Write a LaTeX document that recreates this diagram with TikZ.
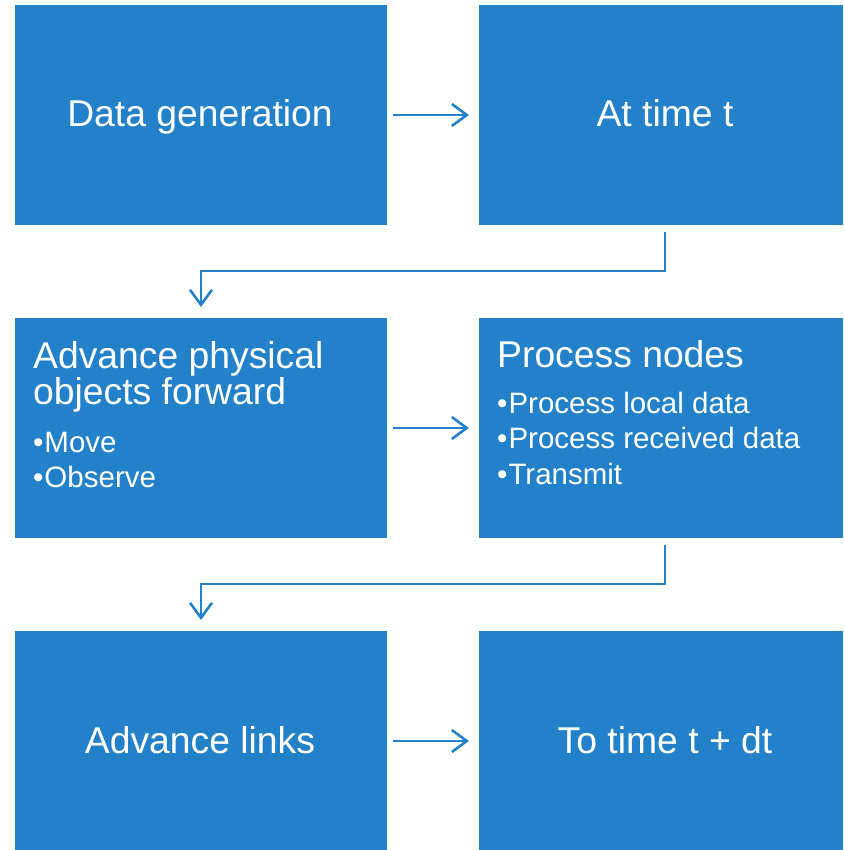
\documentclass[tikz,border=0pt]{standalone}
\usepackage{fontspec}
\setmainfont{Liberation Sans}
\usetikzlibrary{arrows.meta}
\definecolor{boxblue}{RGB}{34,129,200}
\tikzset{
  box/.style={fill=boxblue, draw=none, inner sep=0pt},
  title/.style={text=white, inner sep=0pt, anchor=base, font=\fontsize{37.3}{44}\selectfont},
  big/.style={text=white, inner sep=0pt, anchor=base west, font=\fontsize{37.3}{44}\selectfont},
  small/.style={text=white, inner sep=0pt, anchor=base west, font=\fontsize{29.5}{34}\selectfont},
  conn/.style={draw=boxblue, line width=2.6pt, -{Straight Barb[length=15pt,width=22pt,line width=2.6pt]}},
}
\begin{document}
\begin{tikzpicture}[x=1pt,y=-1pt]
\useasboundingbox (0,0) rectangle (843,850);
% boxes
\node[box, minimum width=372pt, minimum height=220pt] (b1) at (201,115) {};
\node[box, minimum width=364pt, minimum height=220pt] (b2) at (661,115) {};
\node[box, minimum width=372pt, minimum height=220pt] (b3) at (201,428) {};
\node[box, minimum width=364pt, minimum height=220pt] (b4) at (661,428) {};
\node[box, minimum width=372pt, minimum height=219pt] (b5) at (201,740.5) {};
\node[box, minimum width=364pt, minimum height=219pt] (b6) at (661,740.5) {};
% titles
\node[title] (t1) at (200,126.5) {Data generation};
\node[title] (t2) at (665,126.5) {At time t};
\node[title] (t5) at (200,753.5) {Advance links};
\node[title] (t6) at (665,753.5) {To time t + dt};
% texts in box 3
\node[big] (t3a) at (33,368) {Advance physical};
\node[big] (t3b) at (33,404) {objects forward};
\node[small] (t3c) at (33,452) {•\kern1pt Move};
\node[small] (t3d) at (33,487) {•\kern1pt Observe};
% texts in box 4
\node[big] (t4a) at (497,367) {Process nodes};
\node[small] (t4b) at (497,413) {•\kern1pt Process local data};
\node[small] (t4c) at (497,448) {•\kern1pt Process received data};
\node[small] (t4d) at (497,484) {•\kern1pt Transmit};
% connector coordinates
\coordinate (a1s) at (393,115); \coordinate (a1e) at (469,115);
\coordinate (a2s) at (393,428); \coordinate (a2e) at (469,428);
\coordinate (a3s) at (393,741); \coordinate (a3e) at (469,741);
\coordinate (e1s) at (665,232); \coordinate (e1e) at (201,307);
\coordinate (e2s) at (665,545); \coordinate (e2e) at (201,620);
\draw[conn] (a1s) -- (a1e);
\draw[conn] (a2s) -- (a2e);
\draw[conn] (a3s) -- (a3e);
\draw[conn] (e1s) -- (665,271) -- (201,271) -- (e1e);
\draw[conn] (e2s) -- (665,584) -- (201,584) -- (e2e);
\end{tikzpicture}
\end{document}
